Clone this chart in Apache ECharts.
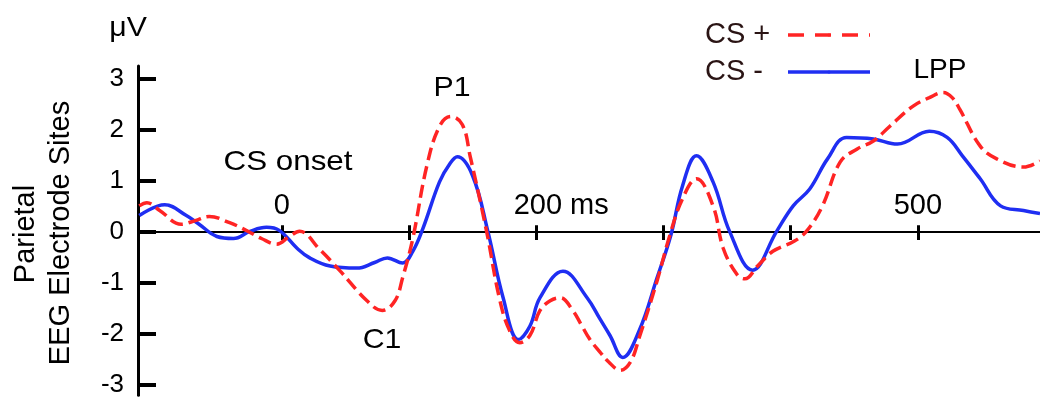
<!DOCTYPE html>
<html>
<head>
<meta charset="utf-8">
<script src="https://cdn.jsdelivr.net/npm/echarts@6/dist/echarts.min.js"></script>
<style>
html,body{margin:0;padding:0;background:#fff;}
#chart{width:1040px;height:398px;}
</style>
</head>
<body>
<div id="chart"></div>
<script>
// ---- data ----
const csPlusMs = [-112,-106,-96,-79,-68,-57,-41,-28,-16,-4, 6,14,30,46,67,79,89,95,103,114, 124,133,142,148,161,171,179,187,195,203, 211,219,229,235,242,250,257,266,274,281, 295,305,315,326,339,347,358,364,374,386, 403,413,425,439,452,465,478,496,509,520, 527,533,549,562,583,596];
const csPlusUv = [0.51,0.57,0.42,0.15,0.22,0.30,0.18,0.03,-0.13,-0.24, -0.09,0.01,-0.35,-0.77,-1.35,-1.54,-1.35,-0.9,-0.13,1.29, 2.07,2.26,2.10,1.49,0.01,-1.29,-1.93,-2.17,-2.03,-1.54, -1.35,-1.29,-1.55,-1.8,-2.1,-2.35,-2.55,-2.71,-2.55,-2.07, -0.96,-0.07,0.65,1.04,0.51,-0.32,-0.84,-0.92,-0.67,-0.38, -0.18,0.03,0.51,1.37,1.62,1.78,2.07,2.46,2.63,2.73, 2.63,2.40,1.68,1.43,1.27,1.39];
const csMinusMs = [-112,-92,-75,-65,-51,-38,-25,-12,-2,12, 22,38,59,73,83,95,103,111,124,132, 138,150,162,174,186,195,203,221,240,250, 258,268,281,295,306,315,326,339,352,370, 389,402,415,429,444,465,484,509,523,535, 549,565,583,596];
const csMinusUv = [0.32,0.53,0.32,0.15,-0.09,-0.13,0.01,0.09,0.03,-0.32, -0.51,-0.67,-0.71,-0.6,-0.51,-0.61,-0.38,0.07,0.98,1.33, 1.47,1.10,0.01,-1.29,-2.11,-1.85,-1.29,-0.77,-1.29,-1.7, -2.03,-2.46,-1.93,-0.9,-0.05,0.9,1.49,0.98,0.01,-0.75, 0.01,0.51,0.84,1.43,1.85,1.82,1.72,1.97,1.85,1.49, 1.04,0.51,0.42,0.36];
const xTicks = [0,100,200,300,400,500];
const xLabels = [0,200,500];
const yTicks = [-3,-2,-1,0,1,2,3];
const seriesNames = ['CS +','CS -'];

const FONT = "'Liberation Sans', Arial, sans-serif";
const RED = '#ff2424';
const BLUE = '#1f2ef2';
const Y_MIN = -3.2, Y_MAX = 3.25, X_MIN = -113, X_MAX = 596;
const GRID_TOP = 66, GRID_H = 332;
const ZERO_Y = GRID_TOP + GRID_H * Y_MAX / (Y_MAX - Y_MIN); // pixel row of 0 µV

function pairs(xs, ys){ return xs.map((x,i)=>[x, ys[i]]); }

const chart = echarts.init(document.getElementById('chart'), null, {renderer:'canvas'});
const txt = (text, x, y, rot, sx) => ({
  type:'text', silent:true, x, y, rotation: rot || 0, scaleX: sx || 1,
  style:{text, x:0, y:0, fill:'#000', font:(rot ? '29px ' : '28px ') + FONT, align:'center', verticalAlign:'middle'}
});

chart.setOption({
  animation:false,
  backgroundColor:'#fff',
  grid:[
    {left:138, top:GRID_TOP, width:902, height:GRID_H, containLabel:false},
    {left:138, top:GRID_TOP, width:902, height:ZERO_Y - GRID_TOP, containLabel:false}
  ],
  legend:{
    orient:'vertical', left:705, top:20, align:'right', padding:0,
    itemWidth:82, itemHeight:4, itemGap:7,
    formatter: n => '{t|' + n + '}',
    textStyle:{color:'#2a1414', fontSize:29, fontFamily:FONT, lineHeight:30,
      rich:{t:{width:78, align:'left', color:'#2a1414', fontSize:29, fontFamily:FONT, lineHeight:30}}},
    data:[
      {name:seriesNames[0], lineStyle:{type:[16,11], width:3.5, color:RED}},
      {name:seriesNames[1], lineStyle:{type:'solid', width:3.5, color:BLUE}}
    ]
  },
  xAxis:[
    {type:'value', gridIndex:0, min:X_MIN, max:X_MAX, position:'bottom',
     axisLine:{show:true, onZero:true, lineStyle:{color:'#000', width:2}},
     axisTick:{show:true, inside:false, length:8, customValues:xTicks, lineStyle:{color:'#000', width:3}},
     axisLabel:{show:false}, splitLine:{show:false}},
    {type:'value', gridIndex:1, min:X_MIN, max:X_MAX, position:'bottom',
     axisLine:{show:false, onZero:false},
     axisTick:{show:true, inside:true, length:8, customValues:xTicks, lineStyle:{color:'#000', width:3}},
     axisLabel:{show:true, inside:true, customValues:xLabels, margin:13, color:'#000', fontSize:29, fontFamily:FONT,
       verticalAlign:'bottom',
       formatter: v => v === 200 ? '{m|200 ms}' : '{n|' + v + '}',
       rich:{m:{padding:[0,0,0,50], color:'#000', fontSize:29, fontFamily:FONT},
             n:{color:'#000', fontSize:29, fontFamily:FONT}}},
     splitLine:{show:false}}
  ],
  yAxis:[
    {type:'value', gridIndex:0, min:Y_MIN, max:Y_MAX, position:'left',
     axisLine:{show:true, onZero:false, lineStyle:{color:'#000', width:3}},
     axisTick:{show:true, inside:true, length:18, customValues:yTicks, lineStyle:{color:'#000', width:4}},
     axisLabel:{show:true, customValues:yTicks, margin:14, color:'#000', fontSize:26, fontFamily:FONT},
     splitLine:{show:false}},
    {type:'value', gridIndex:1, min:0, max:Y_MAX,
     axisLine:{show:false}, axisTick:{show:false}, axisLabel:{show:false}, splitLine:{show:false}}
  ],
  series:[
    {name:seriesNames[0], type:'line', xAxisIndex:0, yAxisIndex:0, data:pairs(csPlusMs, csPlusUv), smooth:0.4, symbol:'none',
     lineStyle:{color:RED, width:3.5, type:[13,6]}, itemStyle:{color:RED}, z:3},
    {name:seriesNames[1], type:'line', xAxisIndex:0, yAxisIndex:0, data:pairs(csMinusMs, csMinusUv), smooth:0.4, symbol:'none',
     lineStyle:{color:BLUE, width:3.5, type:'solid'}, itemStyle:{color:BLUE}, z:2}
  ],
  graphic:[
    txt('μV', 128, 28, 0, 1.08),
    txt('Parietal', 26, 234, Math.PI/2),
    txt('EEG Electrode Sites', 61, 233, Math.PI/2),
    txt('CS onset', 288, 162, 0, 1.12),
    txt('P1', 452, 88, 0, 1.08),
    txt('C1', 382, 340, 0, 1.08),
    txt('LPP', 940, 70, 0, 1.0)
  ]
});
</script>
</body>
</html>
